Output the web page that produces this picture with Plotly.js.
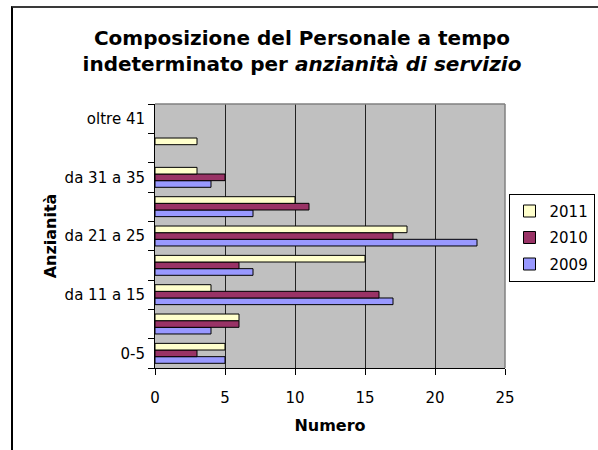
<!DOCTYPE html>
<html>
<head>
<meta charset="utf-8">
<script src="https://cdn.plot.ly/plotly-3.0.1.min.js"></script>
<style>
  html, body { margin: 0; padding: 0; background: #fff; }
  #wrap { position: relative; width: 598px; height: 450px; overflow: hidden; }
  #chart { width: 598px; height: 450px; }
  #frame { position: absolute; left: 11px; top: 6px; width: 620px; height: 500px;
           border-left: 2px solid #000; border-top: 2px solid #3a3a3a; pointer-events: none; }
</style>
</head>
<body>
<div id="wrap">
  <div id="chart"></div>
  <div id="frame"></div>
</div>
<script>
// Categories (bottom to top)
const categories = ["0-5", "da 6 a 10", "da 11 a 15", "da 16 a 20", "da 21 a 25",
                    "da 26 a 30", "da 31 a 35", "da 36 a 40", "oltre 41"];
// Only every other label is shown in the reference
const categoryTickText = ["0-5", "", "da 11 a 15", "", "da 21 a 25", "", "da 31 a 35", "", "oltre 41"];

const values2009 = [5, 4, 17, 7, 23, 7, 4, 0, 0];
const values2010 = [3, 6, 16, 6, 17, 11, 5, 0, 0];
const values2011 = [5, 6, 4, 15, 18, 10, 3, 3, 0];

const xTickVals = [0, 5, 10, 15, 20, 25];

const FONT = "DejaVu Sans, Verdana, sans-serif";

const series = [
  { name: "2009", values: values2009, color: "#9999FF", rank: 3 },
  { name: "2010", values: values2010, color: "#993366", rank: 2 },
  { name: "2011", values: values2011, color: "#FFFFCC", rank: 1 }
];

const traces = series.map((s, i) => ({
  type: "bar",
  orientation: "h",
  name: s.name,
  x: s.values,
  y: categories,
  legendgroup: "g" + i,
  legendrank: s.rank,
  marker: {
    color: s.color,
    // zero-length bars get no outline so no stray stub is drawn
    line: { color: "#000", width: s.values.map(v => (v === 0 ? 0 : 1)) }
  },
  hoverinfo: "x+name"
}));

const layout = {
  width: 598,
  height: 450,
  margin: { l: 155, r: 93, t: 104, b: 82, autoexpand: false },
  paper_bgcolor: "#fff",
  plot_bgcolor: "#C0C0C0",
  font: { family: FONT, color: "#000", size: 15 },
  title: {
    text: "<b>Composizione del Personale a tempo<br>indeterminato per <i>anzianità di servizio</i></b>",
    font: { family: FONT, size: 20, color: "#000" },
    x: 0.505, xanchor: "center",
    y: 0.90, yanchor: "middle"
  },
  barmode: "group",
  bargap: 0.32,
  bargroupgap: 0,
  xaxis: {
    range: [0, 25],
    tickvals: xTickVals,
    ticks: "outside",
    ticklen: 6,
    tickcolor: "#000",
    ticklabelstandoff: 10,
    showline: true,
    linecolor: "#000",
    linewidth: 1,
    showgrid: true,
    gridcolor: "#222",
    gridwidth: 1,
    zeroline: false,
    tickfont: { family: FONT, size: 15 },
    title: { text: "<b>Numero</b>", font: { family: FONT, size: 16 }, standoff: 13 },
    fixedrange: true
  },
  yaxis: {
    type: "category",
    categoryorder: "array",
    categoryarray: categories,
    tickmode: "array",
    tickvals: categories,
    ticktext: categoryTickText,
    tickson: "boundaries",
    ticks: "outside",
    ticklen: 6,
    tickcolor: "#000",
    ticklabelstandoff: 6,
    showline: true,
    linecolor: "#000",
    linewidth: 1,
    showgrid: false,
    zeroline: false,
    tickfont: { family: FONT, size: 15 },
    title: { text: "<b>Anzianità</b>", font: { family: FONT, size: 16 }, standoff: 4 },
    fixedrange: true
  },
  legend: {
    x: 1.01, xanchor: "left",
    y: 0.66, yanchor: "top",
    traceorder: "grouped",
    tracegroupgap: 4,
    bgcolor: "#fff",
    bordercolor: "#000",
    borderwidth: 1,
    font: { family: FONT, size: 15 },
    itemwidth: 30
  },
  shapes: [
    { type: "line", xref: "paper", yref: "paper", x0: 0, x1: 1, y0: 1, y1: 1,
      line: { color: "#808080", width: 1.5 }, layer: "above" },
    { type: "line", xref: "paper", yref: "paper", x0: 1, x1: 1, y0: 0, y1: 1,
      line: { color: "#808080", width: 1.5 }, layer: "above" }
  ],
  showlegend: true
};

Plotly.newPlot("chart", traces, layout, { displayModeBar: false, staticPlot: true });
</script>
</body>
</html>
